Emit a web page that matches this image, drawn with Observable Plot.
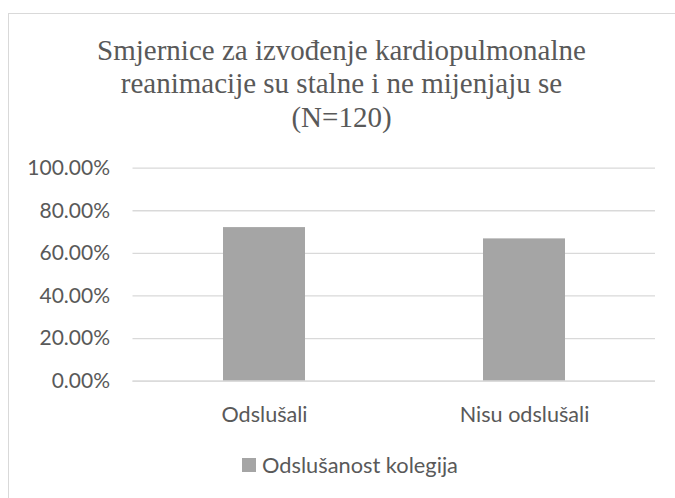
<!DOCTYPE html>
<html>
<head>
<meta charset="utf-8">
<script src="https://cdn.jsdelivr.net/npm/d3@7"></script>
<script src="https://cdn.jsdelivr.net/npm/@observablehq/plot@0.6"></script>
<style>
  html, body { margin: 0; padding: 0; width: 675px; height: 498px; overflow: hidden; background: #fff; }
  #frame { position: absolute; left: 8px; top: 13px; width: 720px; height: 540px; border: 1.5px solid #d9d9d9; box-sizing: border-box; }
  #title { position: absolute; left: 8px; width: 667px; top: 34px; text-align: center;
           font-family: "Liberation Serif", "Times New Roman", serif; font-size: 29px; line-height: 33.4px; color: #595959; }
  #plot { position: absolute; left: 0; top: 140px; }
  #legend { position: absolute; left: 242px; top: 451px; display: flex; align-items: center;
            font-family: Lato, sans-serif; font-size: 21.8px; color: #595959; }
  #legend .sw { width: 14px; height: 14px; background: #A5A5A5; margin-right: 6px; }
</style>
</head>
<body>
<div id="frame"></div>
<div id="title">Smjernice za izvođenje kardiopulmonalne<br>reanimacije su stalne i ne mijenjaju se<br>(N=120)</div>
<div id="plot"></div>
<div id="legend"><div class="sw"></div><span id="legendText"></span></div>
<script>
const categories = ["Odslušali", "Nisu odslušali"];
const values = [0.721, 0.668];
const yTicks = [0, 0.2, 0.4, 0.6, 0.8, 1.0];
const seriesName = "Odslušanost kolegija";

const data = categories.map((c, i) => ({cat: c, value: values[i]}));
document.getElementById("legendText").textContent = seriesName;

const chart = Plot.plot({
  width: 675,
  height: 300,
  marginTop: 27.67,
  marginBottom: 59.33,
  marginLeft: 132.5,
  marginRight: 20,
  style: {fontFamily: "Lato, sans-serif", fontSize: "21px", color: "#595959", background: "transparent"},
  x: {domain: categories, paddingInner: 0.686, paddingOuter: 0.344, label: null},
  y: {domain: [0, 1], label: null},
  marks: [
    Plot.ruleY(yTicks, {stroke: "#d9d9d9", strokeWidth: 1.3}),
    Plot.barY(data, {x: "cat", y: "value", fill: "#A5A5A5"}),
    Plot.ruleY([0], {stroke: "#d9d9d9", strokeWidth: 1.3}),
    Plot.axisY({ticks: yTicks, tickFormat: d => (d * 100).toFixed(2) + "%", tickSize: 0, tickPadding: 23, label: null}),
    Plot.axisX({tickSize: 0, tickPadding: 25, fontSize: 21.6, label: null})
  ]
});
document.getElementById("plot").appendChild(chart);
</script>
</body>
</html>
